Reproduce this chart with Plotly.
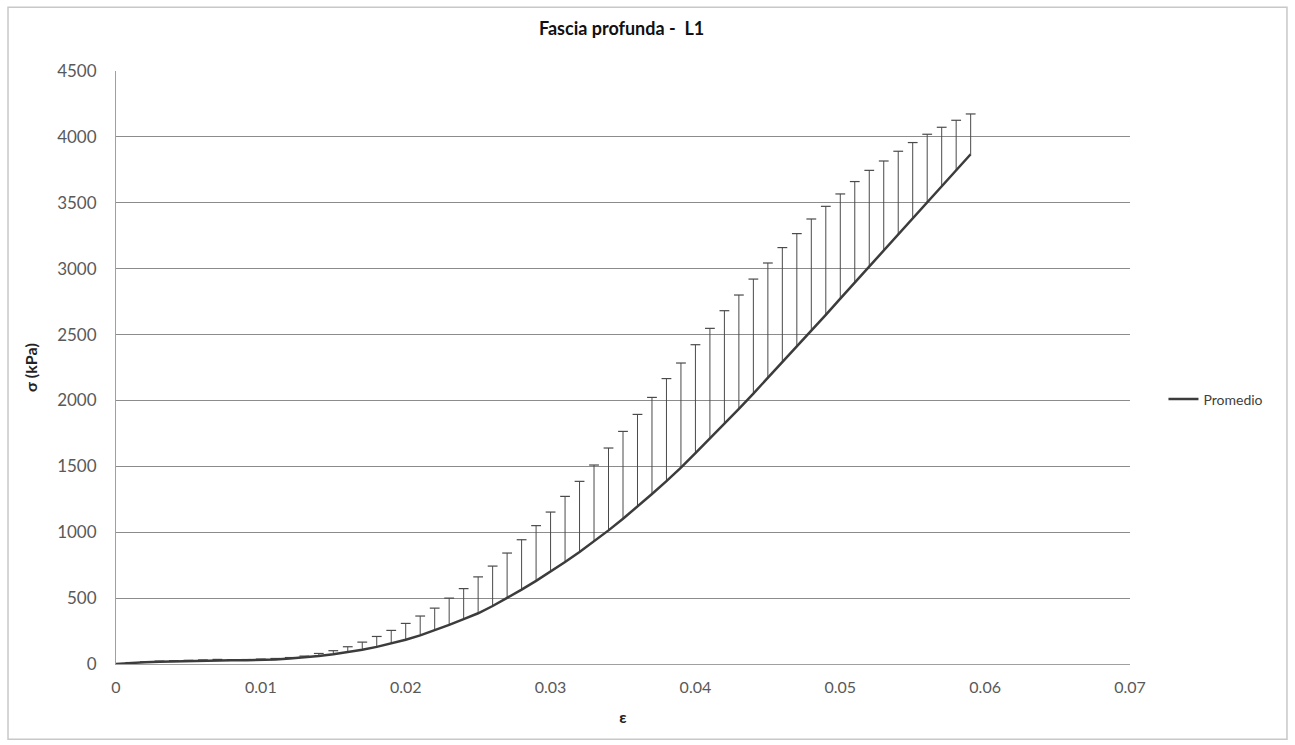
import plotly.graph_objects as go

# Strain values (ε) sampled every 0.001
strain = [round(i * 0.001, 3) for i in range(60)]

# Mean stress (kPa)
promedio = [
    0, 8, 14, 18, 21, 24, 26, 27, 28, 29,
    31, 35, 41, 50, 61, 74, 90, 108, 130, 155,
    184, 217, 255, 297, 340, 385, 440, 500, 564, 631,
    701, 774, 850, 930, 1014, 1102, 1194, 1290, 1388, 1490,
    1600, 1710, 1822, 1936, 2052, 2170, 2288, 2407, 2528, 2650,
    2773, 2895, 3017, 3139, 3261, 3384, 3506, 3627, 3748, 3868,
]

# Upper deviation (kPa), drawn as plus-only error bars
desviacion = [
    2, 3, 3, 4, 4, 4, 5, 8, 5, 5,
    6, 7, 8, 10, 19, 27, 41, 58, 79, 100,
    124, 147, 169, 203, 232, 276, 303, 342, 379, 419,
    452, 498, 536, 580, 625, 663, 700, 733, 778, 794,
    823, 837, 859, 864, 869, 873, 872, 859, 849, 823,
    794, 766, 729, 678, 630, 573, 514, 446, 378, 306,
]

y_ticks = [0, 500, 1000, 1500, 2000, 2500, 3000, 3500, 4000, 4500]
x_ticks = [0, 0.01, 0.02, 0.03, 0.04, 0.05, 0.06, 0.07]
x_labels = ["0", "0.01", "0.02", "0.03", "0.04", "0.05", "0.06", "0.07"]

FONT = "Lato"
BAR_COLOR = "#4a4a4a"

# Plus-only error bars: vertical stems from the mean up to mean + deviation
upper = [m + d for m, d in zip(promedio, desviacion)]
stem_x, stem_y = [], []
for x, m, u in zip(strain, promedio, upper):
    stem_x += [x, x, None]
    stem_y += [m, u, None]

fig = go.Figure()
fig.add_trace(go.Scatter(
    x=stem_x, y=stem_y, mode="lines",
    line=dict(color=BAR_COLOR, width=1),
    showlegend=False, hoverinfo="skip",
))
# End caps at the top of each error bar
fig.add_trace(go.Scatter(
    x=strain, y=upper, mode="markers",
    marker=dict(symbol="line-ew", size=7, line=dict(color=BAR_COLOR, width=1.2)),
    showlegend=False, hoverinfo="skip",
))
fig.add_trace(go.Scatter(
    x=strain,
    y=promedio,
    mode="lines",
    name="Promedio",
    line=dict(color="#3c3c3c", width=2.5),
))

fig.update_layout(
    width=1295,
    height=745,
    margin=dict(l=116, r=165, t=71, b=81),
    paper_bgcolor="white",
    plot_bgcolor="white",
    font=dict(family=FONT, color="#595959", size=16),
    title=dict(
        text="<b>Fascia profunda -  L1</b>",
        x=0.48, xanchor="center",
        y=0.962, yanchor="middle",
        font=dict(family=FONT, size=18, color="#111111"),
    ),
    xaxis=dict(
        range=[0, 0.07],
        tickvals=x_ticks,
        ticktext=x_labels,
        showgrid=False,
        zeroline=False,
        showline=True,
        linecolor="#a0a0a0",
        linewidth=1,
        ticks="",
        ticklabelstandoff=9,
        tickfont=dict(size=16),
        title=dict(text="<b>ε</b>", font=dict(family=FONT, size=16, color="#222222"), standoff=16),
    ),
    yaxis=dict(
        range=[0, 4500],
        tickvals=y_ticks,
        showgrid=True,
        gridcolor="#8c8c8c",
        gridwidth=1,
        zeroline=False,
        showline=True,
        linecolor="#a0a0a0",
        linewidth=1,
        ticks="",
        ticklabelstandoff=15,
        tickfont=dict(size=17),
        title=dict(text="<b>σ (kPa)</b>", font=dict(family=FONT, size=16, color="#222222"), standoff=15),
    ),
    showlegend=True,
    legend=dict(
        x=1.033, y=0.446, xanchor="left", yanchor="middle",
        font=dict(family=FONT, size=14, color="#404040"),
        bgcolor="rgba(0,0,0,0)",
        itemwidth=30,
    ),
)

# Light outer frame around the chart area
fig.add_shape(
    type="rect", xref="paper", yref="paper",
    x0=-0.1065, x1=1.1548, y0=-0.127, y1=1.1074,
    line=dict(color="#c8c8c8", width=1.5),
    fillcolor="rgba(0,0,0,0)", layer="below",
)

fig.write_html("out.html")
